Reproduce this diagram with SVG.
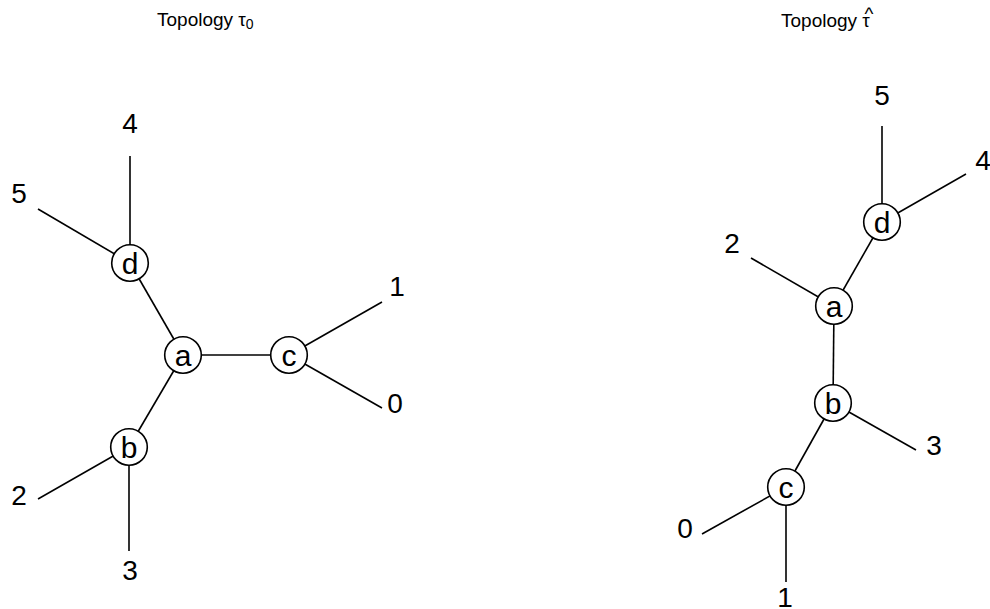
<svg xmlns="http://www.w3.org/2000/svg" width="990" height="609" viewBox="0 0 990 609">
  <style>
    .edge { stroke: #000; stroke-width: 1.6; fill: none; }
    .node circle { fill: #fff; stroke: #000; stroke-width: 1.6; }
    .node text { font-family: "Liberation Sans", Arial, sans-serif; font-size: 30px; text-anchor: middle; fill: #000; }
    .leaf { font-family: "Liberation Sans", Arial, sans-serif; font-size: 28px; text-anchor: middle; fill: #000; }
    .title { font-family: "Liberation Sans", Arial, sans-serif; font-size: 19px; fill: #000; }
  </style>

  <!-- titles -->
  <text class="title" x="157" y="26">Topology <tspan>τ</tspan><tspan font-size="14" dy="3">0</tspan></text>
  <text class="title" x="781" y="27">Topology <tspan>τ</tspan></text>
  <text class="title" x="869" y="20" text-anchor="middle" font-size="17">^</text>

  <!-- left tree: connectors -->
  <g id="edges-left">
    <line class="edge" x1="183" y1="355" x2="130" y2="263"/>
    <line class="edge" x1="183" y1="355" x2="289" y2="355"/>
    <line class="edge" x1="183" y1="355" x2="129" y2="447"/>
    <line class="edge" x1="130" y1="263" x2="130" y2="156"/>
    <line class="edge" x1="130" y1="263" x2="38" y2="209"/>
    <line class="edge" x1="289" y1="355" x2="382" y2="302"/>
    <line class="edge" x1="289" y1="355" x2="382" y2="408"/>
    <line class="edge" x1="129" y1="447" x2="38" y2="499"/>
    <line class="edge" x1="129" y1="447" x2="129" y2="551"/>
  </g>

  <!-- right tree: connectors -->
  <g id="edges-right">
    <line class="edge" x1="834" y1="306" x2="882" y2="222"/>
    <line class="edge" x1="834" y1="306" x2="833" y2="403"/>
    <line class="edge" x1="833" y1="403" x2="786" y2="487"/>
    <line class="edge" x1="882" y1="222" x2="882" y2="126"/>
    <line class="edge" x1="882" y1="222" x2="966" y2="174"/>
    <line class="edge" x1="834" y1="306" x2="751" y2="258"/>
    <line class="edge" x1="833" y1="403" x2="916" y2="450"/>
    <line class="edge" x1="786" y1="487" x2="702" y2="534"/>
    <line class="edge" x1="786" y1="487" x2="786" y2="582"/>
  </g>

  <!-- left tree: internal nodes -->
  <g id="L-a" class="node"><circle cx="183" cy="355" r="18.3"/><text x="183" y="366">a</text></g>
  <g id="L-b" class="node"><circle cx="129" cy="447" r="18.3"/><text x="129" y="458">b</text></g>
  <g id="L-c" class="node"><circle cx="289" cy="355" r="18.3"/><text x="289" y="366">c</text></g>
  <g id="L-d" class="node"><circle cx="130" cy="263" r="18.3"/><text x="130" y="274">d</text></g>

  <!-- left tree: leaves -->
  <g id="L-0"><text class="leaf" x="395" y="413">0</text></g>
  <g id="L-1"><text class="leaf" x="397" y="296">1</text></g>
  <g id="L-2"><text class="leaf" x="19" y="505">2</text></g>
  <g id="L-3"><text class="leaf" x="130" y="580">3</text></g>
  <g id="L-4"><text class="leaf" x="130" y="133">4</text></g>
  <g id="L-5"><text class="leaf" x="19" y="203">5</text></g>

  <!-- right tree: internal nodes -->
  <g id="R-a" class="node"><circle cx="834" cy="306" r="18.3"/><text x="834" y="317">a</text></g>
  <g id="R-b" class="node"><circle cx="833" cy="403" r="18.3"/><text x="833" y="414">b</text></g>
  <g id="R-c" class="node"><circle cx="786" cy="487" r="18.3"/><text x="786" y="498">c</text></g>
  <g id="R-d" class="node"><circle cx="882" cy="222" r="18.3"/><text x="882" y="233">d</text></g>

  <!-- right tree: leaves -->
  <g id="R-0"><text class="leaf" x="685" y="538">0</text></g>
  <g id="R-1"><text class="leaf" x="785" y="607">1</text></g>
  <g id="R-2"><text class="leaf" x="732" y="253">2</text></g>
  <g id="R-3"><text class="leaf" x="934" y="455">3</text></g>
  <g id="R-4"><text class="leaf" x="983" y="170">4</text></g>
  <g id="R-5"><text class="leaf" x="882" y="105">5</text></g>
</svg>
